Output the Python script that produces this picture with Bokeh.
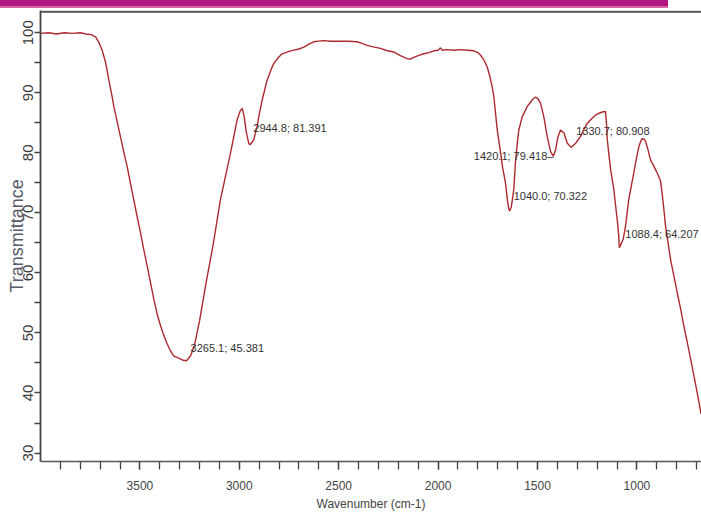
from bokeh.plotting import figure
from bokeh.models import Range1d, FixedTicker, Label, Span, Div
from bokeh.layouts import column
from bokeh.embed import file_html
from bokeh.resources import INLINE

# ---- spectrum data (wavenumber cm-1, transmittance %) ----
wavenumber = [4000, 3960, 3920, 3880, 3840, 3800, 3770, 3745, 3723, 3705, 3690, 3672,
              3656, 3640, 3631, 3615, 3598, 3580, 3564, 3548, 3531, 3514, 3497, 3480,
              3463, 3446, 3430, 3412, 3396, 3380, 3363, 3346, 3330, 3305, 3287, 3265.1,
              3245, 3225, 3200, 3170, 3130, 3095, 3070, 3044, 3011, 2995, 2985, 2975,
              2965, 2952, 2944.8, 2935, 2927, 2910, 2902, 2885, 2860, 2840, 2826, 2800,
              2784, 2750, 2726, 2700, 2675, 2650, 2625, 2600, 2575, 2540, 2491, 2450,
              2407, 2380, 2357, 2320, 2290, 2255, 2223, 2190, 2156, 2140, 2122, 2100,
              2072, 2045, 2022, 2000, 1988, 1980, 1954, 1920, 1887, 1850, 1820, 1800,
              1787, 1770, 1753, 1740, 1728, 1720, 1711, 1703, 1690, 1675, 1661, 1650,
              1644, 1640.0, 1632, 1625, 1619, 1611, 1602, 1594, 1577, 1552, 1527, 1510,
              1497, 1484, 1468, 1451, 1434, 1420.1, 1409, 1397, 1384, 1367, 1350, 1330.7,
              1308, 1284, 1265, 1250, 1230, 1208, 1190, 1174, 1158, 1152, 1149, 1140,
              1132, 1116, 1108, 1099, 1092, 1088.4, 1080, 1069, 1057, 1041, 1028, 1016,
              1003, 990, 980, 973, 965, 956, 944, 931, 918, 906, 893, 881, 873, 864, 856,
              843, 831, 814, 797, 780, 764, 747, 730, 714, 697, 677]
transmittance = [99.9, 100.0, 99.8, 100.0, 99.9, 100.0, 99.8, 99.7, 99.3, 98.3, 97.1, 95.0,
                 92.1, 89.4, 87.7, 85.3, 82.7, 80.0, 77.7, 75.0, 72.2, 69.4, 66.7, 63.8,
                 61.1, 58.3, 55.6, 53.0, 51.2, 49.6, 48.2, 47.0, 46.2, 45.8, 45.5, 45.381,
                 46.2, 48.0, 52.0, 57.8, 65.0, 72.2, 76.0, 80.0, 85.5, 87.0, 87.4, 86.0,
                 83.5, 81.5, 81.391, 81.8, 82.2, 84.5, 86.0, 88.8, 92.1, 93.9, 94.9, 96.0,
                 96.5, 96.9, 97.1, 97.3, 97.6, 98.1, 98.5, 98.6, 98.7, 98.6, 98.6, 98.6,
                 98.5, 98.2, 97.9, 97.6, 97.4, 97.0, 96.8, 96.2, 95.7, 95.6, 95.9, 96.2,
                 96.5, 96.7, 97.0, 97.1, 97.5, 97.1, 97.2, 97.1, 97.2, 97.1, 97.0, 96.7,
                 96.3, 95.5, 94.3, 92.8, 91.0, 89.5, 86.6, 84.0, 81.0, 77.5, 75.0, 71.8,
                 70.6, 70.322, 71.0, 72.5, 74.0, 78.3, 81.5, 83.8, 86.0, 87.7, 88.8, 89.3,
                 89.0, 88.2, 86.0, 82.7, 80.2, 79.418, 80.5, 82.7, 83.8, 83.3, 81.6, 80.908,
                 81.6, 82.7, 84.0, 84.9, 85.6, 86.3, 86.6, 86.8, 86.9, 84.5, 82.2, 79.5,
                 77.2, 73.9, 71.5, 68.9, 66.5, 64.207, 64.8, 65.6, 67.8, 72.2, 74.5, 76.6,
                 79.0, 81.0, 82.0, 82.4, 82.3, 81.9, 80.5, 78.8, 78.0, 77.2, 76.3, 75.3, 73.3, 70.5, 67.8,
                 65.0, 62.3, 59.5, 56.7, 54.0, 51.2, 48.5, 45.7, 43.0, 40.1, 36.5]

# peak annotations
peak_wn = [3265.1, 2944.8, 1420.1, 1640.0, 1330.7, 1088.4]
peak_t = [45.381, 81.391, 79.418, 70.322, 80.908, 64.207]
peak_text = ["3265.1; 45.381", "2944.8; 81.391", "1420.1; 79.418\u2013",
             "1040.0; 70.322", "1330.7; 80.908", "1088.4; 64.207"]

x_major = [1000, 1500, 2000, 2500, 3000, 3500]
x_minor = list(range(700, 4000, 100))
y_major = [30, 40, 50, 60, 70, 80, 90, 100]
y_minor = [35, 45, 55, 65, 75, 85, 95]

FONT = "Liberation Sans"

p = figure(width=701, height=505, output_backend="svg", toolbar_location=None,
           title=None, x_range=Range1d(4000, 675), y_range=Range1d(28.59, 103.71),
           min_border_left=40, min_border_right=0, min_border_top=2, min_border_bottom=50)
p.outline_line_color = None
p.grid.visible = False
p.background_fill_color = "white"

p.line(wavenumber, transmittance, line_color="#ac2a2e", line_width=1.4)

# top frame line
p.add_layout(Span(location=103.5, dimension="width", line_color="#505050", line_width=2))

xa = p.xaxis[0]
xa.ticker = FixedTicker(ticks=x_major, minor_ticks=x_minor)
xa.major_tick_out = 8
xa.major_tick_in = 0
xa.minor_tick_out = 8
xa.minor_tick_in = 0
xa.axis_line_color = "#555555"
xa.axis_line_width = 1.5
xa.major_tick_line_color = "#444444"
xa.minor_tick_line_color = "#444444"
xa.major_tick_line_width = 1.3
xa.minor_tick_line_width = 1.3
xa.major_label_text_font = FONT
xa.major_label_text_font_size = "12px"
xa.major_label_text_color = "#444444"
xa.major_label_standoff = 11
xa.axis_label = "Wavenumber (cm-1)"
xa.axis_label_text_font = FONT
xa.axis_label_text_font_size = "12px"
xa.axis_label_text_font_style = "normal"
xa.axis_label_text_color = "#444444"
xa.axis_label_standoff = 4

ya = p.yaxis[0]
ya.ticker = FixedTicker(ticks=y_major, minor_ticks=y_minor)
ya.major_tick_out = 6
ya.major_tick_in = 0
ya.minor_tick_out = 6
ya.minor_tick_in = 0
ya.axis_line_color = "#444444"
ya.axis_line_width = 1.8
ya.major_tick_line_color = "#444444"
ya.minor_tick_line_color = "#444444"
ya.major_tick_line_width = 1.3
ya.minor_tick_line_width = 1.3
ya.major_label_orientation = "vertical"
ya.major_label_text_font = FONT
ya.major_label_text_font_size = "15px"
ya.major_label_text_color = "#3a3a3a"
ya.major_label_standoff = 1
ya.axis_label = "Transmittance"
ya.axis_label_text_font = FONT
ya.axis_label_text_font_size = "18px"
ya.axis_label_text_font_style = "normal"
ya.axis_label_text_color = "#5a5a6a"
ya.axis_label_standoff = -6

# peak labels
offsets = [(4, 13, "left"), (3, 16, "left"), (0, 0, "right"), (4, 15, "left"), (5, 16, "left"), (6, 14, "left")]
for wn, t, txt, (dx, dy, al) in zip(peak_wn, peak_t, peak_text, offsets):
    p.add_layout(Label(x=wn, y=t, text=txt, x_offset=dx, y_offset=dy, text_align=al,
                       text_baseline="middle", text_font=FONT, text_font_size="11px",
                       text_color="#333333"))

bar = Div(text="", width=668, height=8, margin=(0, 0, 0, 0),
          styles={"background-color": "#b3157e", "border-bottom": "2px solid #d667a6",
                  "box-sizing": "border-box"})

layout = column(bar, p, spacing=0)

open("out.html", "w").write(file_html(layout, INLINE))
